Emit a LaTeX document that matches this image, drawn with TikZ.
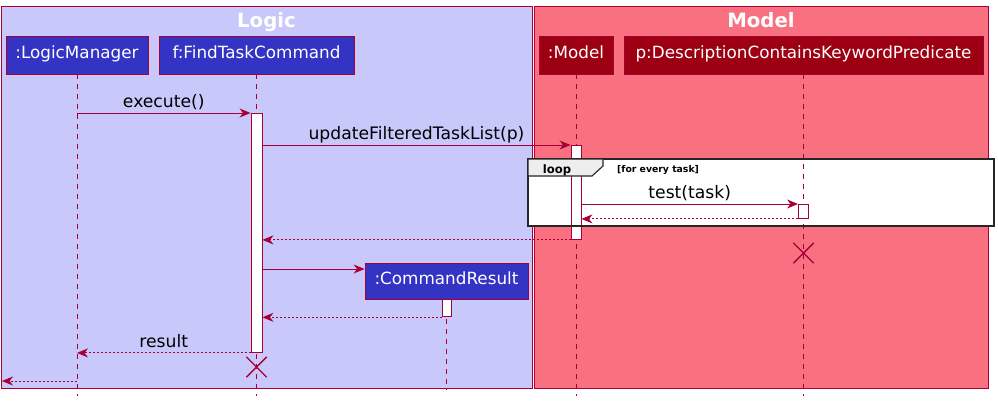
\documentclass[tikz,border=0pt]{standalone}
\usepackage{fontspec}
\setmainfont{DejaVu Sans}
\usetikzlibrary{arrows.meta, positioning, shapes.misc}
\definecolor{umlline}{HTML}{A80036}
\definecolor{logicbg}{HTML}{C8C8FA}
\definecolor{logicfg}{HTML}{3333C4}
\definecolor{modelbg}{HTML}{F97181}
\definecolor{modelfg}{HTML}{9D0012}
\definecolor{tabgrey}{HTML}{EEEEEE}

\begin{document}
\begin{tikzpicture}[x=1pt, y=-1pt,
    msg/.style={draw=umlline, line width=0.9pt, -{Stealth[length=11pt, width=9pt, inset=3.5pt]}},
    ret/.style={msg, dash pattern=on 2pt off 2pt},
    lifeline/.style={draw=umlline, line width=0.9pt, dash pattern=on 5pt off 5pt},
    partbox/.style={draw=umlline, line width=0.8pt, text=white, inner sep=0pt,
        font=\fontsize{16.8}{19}\selectfont, text height=0.73em, text depth=0pt},
    logicpart/.style={partbox, fill=logicfg},
    modelpart/.style={partbox, fill=modelfg},
    act/.style={draw=umlline, fill=white, line width=0.9pt, inner sep=0pt, anchor=north},
    lbl/.style={anchor=base, font=\fontsize{17.2}{19}\selectfont},
    boxtitle/.style={anchor=base, text=white, font=\bfseries\fontsize{19.7}{22}\selectfont},
    destroy/.style={draw=umlline, cross out, line width=1.4pt, minimum size=19pt, inner sep=0pt}]
    \useasboundingbox (0,0) rectangle (998,400);

    % boxes
    \draw[umlline, fill=logicbg] (1,6) rectangle (532,388);
    \draw[umlline, fill=modelbg] (534,6) rectangle (988,388);
    \node[boxtitle] (logictitle) at (266.5,27) {Logic};
    \node[boxtitle] (modeltitle) at (761,27) {Model};

    % participants
    \node[logicpart, minimum width=142pt, minimum height=38pt] (lm) at (77,55) {:LogicManager};
    \node[logicpart, minimum width=195pt, minimum height=38pt] (ftc) at (256.5,55) {f:FindTaskCommand};
    \node[modelpart, minimum width=74pt, minimum height=38pt] (mdl) at (576,55) {:Model};
    \node[modelpart, minimum width=359pt, minimum height=38pt] (pred) at (803.5,55) {p:DescriptionContainsKeywordPredicate};
    \node[logicpart, minimum width=163pt, minimum height=36pt] (cr) at (446.5,281) {:CommandResult};

    \coordinate (bottom) at (0,396);
    \coordinate (crbottom) at (0,390);
    \coordinate (out) at (2,381);
    \coordinate (crin) at ([yshift=12pt]cr.west);

    % loop background
    \fill[white] (528,159) rectangle (994,226);

    % lifelines
    \draw[lifeline] (lm.south) -- (lm |- bottom);
    \draw[lifeline] (ftc.south) -- (ftc |- bottom);
    \draw[lifeline] (mdl.south) -- (mdl |- bottom);
    \draw[lifeline] (pred.south) -- (pred |- bottom);
    \draw[lifeline] (cr.south) -- (cr |- crbottom);

    % activations
    \node[act, minimum width=11pt, minimum height=239pt] (a1) at (ftc |- 0,113) {};
    \node[act, minimum width=10pt, minimum height=94pt] (a2) at (mdl |- 0,145) {};
    \node[act, minimum width=10pt, minimum height=14pt] (a3) at (pred |- 0,204) {};
    \node[act, minimum width=9pt, minimum height=17pt] (a4) at (cr.south) {};

    % loop frame
    \draw[line width=1.8pt, draw=black!85] (528,159) rectangle (994,226);
    \draw[fill=tabgrey, line width=1.1pt, draw=black!85] (528,159) -- (603,159) -- (603,166) -- (592,176) -- (528,176) -- cycle;
    \node[anchor=base, font=\bfseries\fontsize{11.6}{13}\selectfont] (looplbl) at (557,173) {loop};
    \node[anchor=base west, inner sep=0pt, font=\bfseries\fontsize{9.3}{11}\selectfont] (guard) at (617,172) {[for every task]};

    % messages
    \draw[msg] (lm |- a1.north) -- (a1.north west) node[lbl, midway, yshift=5.5pt] {execute()};
    \draw[msg] (a1.east |- a2.north) -- (a2.north west) node[lbl, midway, yshift=5.5pt] {updateFilteredTaskList(p)};
    \draw[msg] (a2.east |- a3.north) -- (a3.north west) node[lbl, midway, yshift=5.5pt] {test(task)};
    \draw[ret] (a3.south west) -- (a2.east |- a3.south);
    \draw[ret] (a2.south west) -- (a1.east |- a2.south);
    \node[destroy] (predx) at (803.5,253) {};
    \draw[msg] (a1.east |- crin) -- (crin);
    \draw[ret] (a4.south west) -- (a1.east |- a4.south);
    \draw[ret] (a1.south west) -- (lm |- a1.south) node[lbl, midway, yshift=5.5pt] {result};
    \node[destroy] (ftcx) at (256.5,367) {};
    \draw[ret] (lm |- out) -- (out);
\end{tikzpicture}
\end{document}
